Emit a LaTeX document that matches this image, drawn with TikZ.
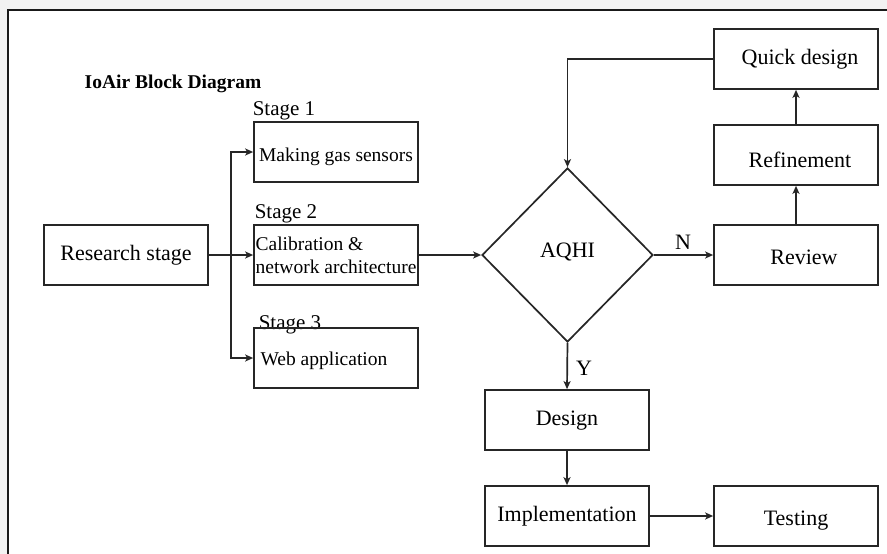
\documentclass[tikz,border=0pt]{standalone}
\usepackage{fontspec}
\setmainfont{Liberation Serif}
\usetikzlibrary{shapes.geometric,arrows.meta}
\newcommand{\lowerby}[2]{\raisebox{-#1}[\height][\depth]{#2}}
\begin{document}
\begin{tikzpicture}[x=1pt,y=-1pt,
  box/.style={draw=black!85,line width=1.7pt,minimum width=164pt,minimum height=60pt,inner sep=0pt,font=\fontsize{22}{26}\selectfont},
  stagebox/.style={box,align=left,font=\fontsize{19.5}{23}\selectfont},
  lbl/.style={inner sep=0pt,font=\fontsize{22}{26}\selectfont},
  stlbl/.style={inner sep=0pt,font=\fontsize{21}{25}\selectfont},
  arr/.style={line width=1.7pt,draw=black!85,-{Stealth[length=8pt,width=7pt,inset=2pt]}}]
\useasboundingbox (0,0) rectangle (887,554);
\fill[black!5] (0,0) rectangle (887,554);
\draw[line width=2pt,draw=black!90,fill=white] (8,10) rectangle (895,565);

\node[inner sep=0pt,font=\bfseries\fontsize{19.5}{23}\selectfont] (title) at (173,84) {IoAir Block Diagram};

\node[box] (research) at (126,255) {Research stage};

\node[stlbl] (st1) at (284,111) {Stage 1};
\node[stagebox] (s1) at (336,152) {\lowerby{5pt}{Making gas sensors}};
\node[stlbl] (st2) at (286,214) {Stage 2};
\node[stagebox] (s2) at (336,255) {Calibration \&\\network architecture};
\node[stlbl] (st3) at (290,325) {Stage 3};
\node[stagebox] (s3) at (336,358) {\lowerby{3pt}{Web application}\hspace*{24pt}};

\node[draw=black!85,line width=1.7pt,diamond,minimum width=171pt,minimum height=174pt,inner sep=0pt,font=\fontsize{22}{26}\selectfont] (aqhi) at (567.5,255) {\raisebox{3pt}[\height][\depth]{AQHI}};

\node[box] (review) at (796,255) {\hspace{16pt}\lowerby{2pt}{Review}};
\node[box] (refine) at (796,155) {\hspace{8pt}\lowerby{5pt}{Refinement}};
\node[box] (quick) at (796,59) {\hspace{8pt}Quick design};

\node[box] (design) at (567,420) {\lowerby{1pt}{Design}};
\node[box] (impl) at (567,516) {Implementation};
\node[box] (test) at (796,516) {\lowerby{5pt}{Testing}};

\coordinate (br) at (231,255);
\draw[arr] (research.east) -- (s2.west);
\draw[arr] (br) |- (s1.west);
\draw[arr] (br) |- (s3.west);
\draw[arr] (s2.east) -- (aqhi.west);
\draw[arr] (aqhi.east) -- (review.west);
\node[lbl] (nlbl) at (683,242) {N};
\draw[arr] (review.north) -- (refine.south);
\draw[arr] (refine.north) -- (quick.south);
\draw[arr] (quick.west) -| (aqhi.north);
\draw[arr] (aqhi.south) -- (design.north);
\node[lbl] (ylbl) at (584,368) {Y};
\draw[arr] (design.south) -- (impl.north);
\draw[arr] (impl.east) -- (test.west);
\end{tikzpicture}
\end{document}
